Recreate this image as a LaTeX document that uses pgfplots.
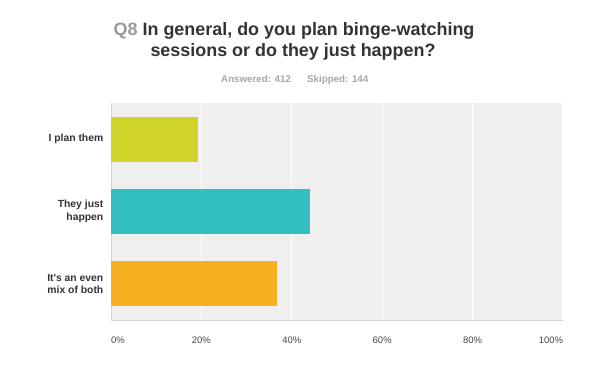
\documentclass[border=0pt]{standalone}
\usepackage{pgfplots}
\pgfplotsset{compat=1.18}
\usepackage{fontspec}
\setmainfont{Liberation Sans}
\definecolor{cYel}{HTML}{D0D42A}
\definecolor{cTeal}{HTML}{33BEC0}
\definecolor{cOr}{HTML}{F7B022}
\definecolor{bgc}{HTML}{EFEFEF}
\definecolor{axisgrey}{HTML}{D4D4D4}
\definecolor{titlec}{HTML}{333333}
\definecolor{qgrey}{HTML}{9A9A9A}
\definecolor{subgrey}{HTML}{A6A6A6}
\definecolor{tickc}{HTML}{444444}
\begin{document}
\begin{tikzpicture}[x=1bp,y=1bp]
\path (0,0) rectangle (590,384);
\begin{axis}[
  at={(111bp,64bp)}, anchor=south west,
  scale only axis, width=452bp, height=217bp,
  xbar, bar width=45bp,
  xmin=0, xmax=100, ymin=-0.5, ymax=2.5, y dir=reverse,
  ytick={0,1,2},
  yticklabels={I plan them, They just\\happen, It\textquotesingle s an even\\mix of both},
  xtick={0,20,40,60,80,100},
  xticklabels={\makebox[0pt][l]{0\%},20\%,40\%,60\%,80\%,\makebox[0pt][r]{100\%}},
  major tick length=0pt,
  axis x line*=bottom, axis y line*=left,
  axis line style={axisgrey, line width=1bp, -},
  axis background/.style={fill=bgc},
  xmajorgrids, grid style={white, line width=1.2bp},
  yticklabel style={font=\fontsize{10.4}{12.5}\selectfont\bfseries, align=right, text=titlec, inner sep=0pt, xshift=-7.5bp},
  xticklabel style={font=\fontsize{9.5}{11}\selectfont, text=tickc, inner sep=0pt, yshift=-16.5bp},
]
\addplot[xbar, bar shift=0pt, fill=cYel, draw=none] coordinates {(19.2,0)};
\addplot[xbar, bar shift=0pt, fill=cTeal, draw=none] coordinates {(44.1,1)};
\addplot[xbar, bar shift=0pt, fill=cOr, draw=none] coordinates {(36.7,2)};
\end{axis}
\node[anchor=base west, inner sep=0pt, font=\fontsize{18}{21}\selectfont\bfseries, text=titlec] at (113.5,349) {{\color{qgrey}Q8} In general, do you plan binge-watching};
\node[anchor=base, inner sep=0pt, font=\fontsize{18}{21}\selectfont\bfseries, text=titlec] at (293,328) {sessions or do they just happen?};
\node[anchor=base west, inner sep=0pt, font=\fontsize{9.8}{11}\selectfont\bfseries, text=subgrey] at (221,301.5) {Answered: 412};
\node[anchor=base west, inner sep=0pt, font=\fontsize{9.8}{11}\selectfont\bfseries, text=subgrey] at (307,301.5) {Skipped: 144};
\end{tikzpicture}
\end{document}
